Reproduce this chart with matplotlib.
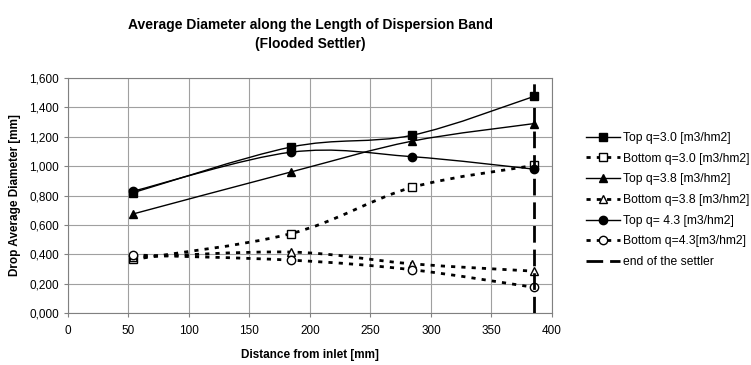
import matplotlib
matplotlib.use("Agg")
import matplotlib.pyplot as plt
from matplotlib.path import Path
from matplotlib.patches import PathPatch
from matplotlib.lines import Line2D
from matplotlib.ticker import FuncFormatter

plt.rcParams["font.family"] = ["Liberation Sans", "DejaVu Sans"]

# distancia desde la entrada [mm]
dist = [54, 184, 284, 385]
top_30 = [0.820, 1.130, 1.210, 1.475]
bot_30 = [0.365, 0.540, 0.855, 1.005]
top_38 = [0.675, 0.960, 1.170, 1.290]
bot_38 = [0.380, 0.415, 0.335, 0.285]
top_43 = [0.830, 1.095, 1.065, 0.980]
bot_43 = [0.395, 0.360, 0.295, 0.175]
settler_end = 385

labels = ["Top q=3.0 [m3/hm2]", "Bottom q=3.0 [m3/hm2]",
          "Top q=3.8 [m3/hm2]", "Bottom q=3.8 [m3/hm2]",
          "Top q= 4.3 [m3/hm2]", "Bottom q=4.3[m3/hm2]"]
series = [top_30, bot_30, top_38, bot_38, top_43, bot_43]
markers = ["s", "s", "^", "^", "o", "o"]
filled = [True, False, True, False, True, False]
DOT = (0, (1.5, 2.2))
DASH = (0, (6, 2.5))


def smooth_path(xs, ys):
    # curva tipo Excel (Bezier cubica entre puntos)
    pts = list(zip(xs, ys))
    verts = [pts[0]]
    codes = [Path.MOVETO]
    n = len(pts)
    for i in range(n - 1):
        p0 = pts[i - 1] if i > 0 else pts[i]
        p1, p2 = pts[i], pts[i + 1]
        p3 = pts[i + 2] if i + 2 < n else pts[i + 1]
        c1 = (p1[0] + (p2[0] - p0[0]) / 6, p1[1] + (p2[1] - p0[1]) / 6)
        c2 = (p2[0] - (p3[0] - p1[0]) / 6, p2[1] - (p3[1] - p1[1]) / 6)
        verts += [c1, c2, p2]
        codes += [Path.CURVE4] * 3
    return Path(verts, codes)


fig = plt.figure(figsize=(7.51, 3.65), dpi=100)
ax = fig.add_axes([0.0905, 0.1425, 0.6445, 0.6435])

handles = []
for ys, lab, m, f in zip(series, labels, markers, filled):
    ls = "-" if f else DOT
    lw = 1.0 if f else 2.0
    ax.add_patch(PathPatch(smooth_path(dist, ys), fill=False, edgecolor="black",
                           linewidth=lw, linestyle=ls, zorder=3))
    fc = "black" if f else "white"
    ax.plot(dist, ys, linestyle="none", marker=m, markersize=6,
            markerfacecolor=fc, markeredgecolor="black", markeredgewidth=1.0, zorder=4)
    handles.append(Line2D([], [], color="black", linestyle=ls, linewidth=lw, marker=m,
                          markersize=6, markerfacecolor=fc, markeredgecolor="black"))

ax.axvline(settler_end, color="black", linewidth=2.0, linestyle=DASH, zorder=5)
handles.append(Line2D([], [], color="black", linewidth=2.0, linestyle=DASH))
labels_all = labels + ["end of the settler"]

ax.set_xlim(0, 400)
ax.set_ylim(0, 1.6)
ax.set_xticks(range(0, 401, 50))
ax.set_yticks([i * 0.2 for i in range(9)])
ax.yaxis.set_major_formatter(FuncFormatter(lambda v, p: f"{v:.3f}".replace(".", ",")))
ax.grid(True, color="#a0a0a0", linewidth=0.8)
ax.set_axisbelow(True)
for s in ax.spines.values():
    s.set_color("#808080")
ax.tick_params(labelsize=8.5, length=3, color="#808080")
ax.tick_params(axis="x", pad=6)
ax.set_xlabel("Distance from inlet [mm]", fontsize=8.5, fontweight="bold", labelpad=8)
ax.set_ylabel("Drop Average Diameter [mm]", fontsize=8.5, fontweight="bold", labelpad=6)

fig.text(0.413, 0.905, "Average Diameter along the Length of Dispersion Band\n(Flooded Settler)",
         ha="center", va="center", fontsize=10, fontweight="bold", linespacing=1.4)

fig.legend(handles, labels_all, loc="upper left", bbox_to_anchor=(0.772, 0.655),
           frameon=False, fontsize=8.7, handlelength=2.8, handletextpad=0.3,
           labelspacing=0.72, borderpad=0)

fig.savefig("out.png", dpi=100)
